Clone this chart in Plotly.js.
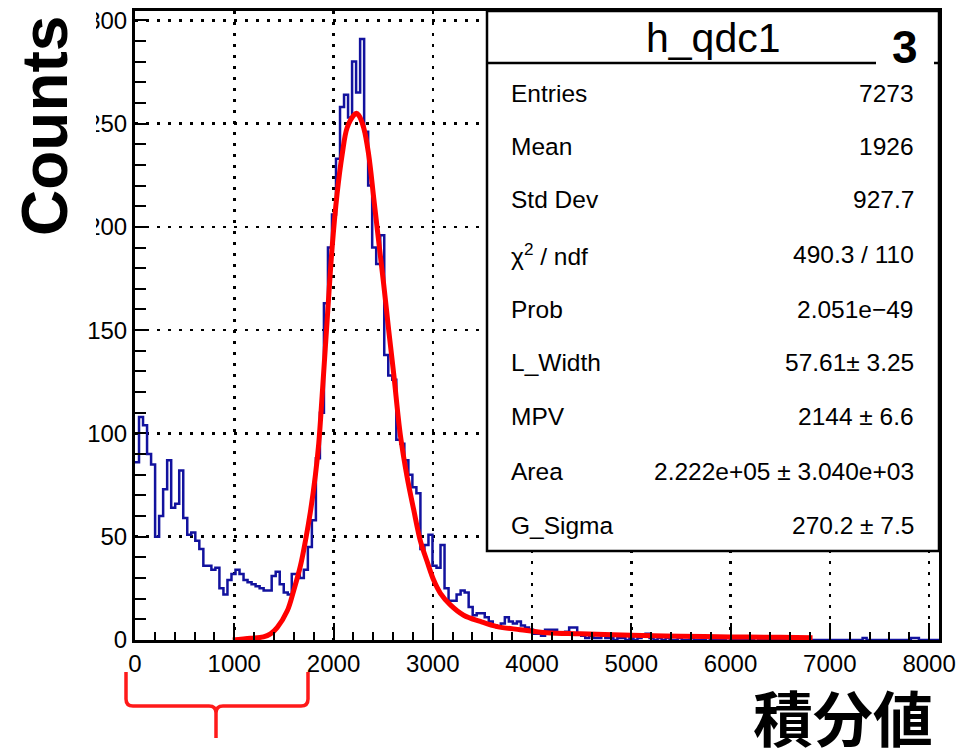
<!DOCTYPE html>
<html>
<head>
<meta charset="utf-8">
<script src="https://cdn.plot.ly/plotly-3.0.1.min.js"></script>
<style>html,body{margin:0;padding:0;background:#fff}#chart{width:958px;height:750px}</style>
</head>
<body>
<div id="chart"></div>
<script>
// ---- data ----
const histName = "h_qdc1";
const binWidth = 40.5;
const xMin = 0;
const xMax = 8100;
const counts = [
  86,108,104,90,85,50,60,73,87,64,
  66,82,59,51,52,48,44,36,36,34,
  35,25,22,29,32,34,32,29,28,27,
  26,25,24,24,31,33,27,23,22,32,
  32,30,34,45,58,88,110,163,190,206,
  233,258,264,253,280,265,291,246,220,190,
  182,196,138,128,126,97,95,87,80,74,
  71,44,46,51,36,35,46,25,19,19,
  22,24,23,16,12,13,13,11,9,7,
  6,8,11,9,8,9,7,6,5,3,
  3,2,5,5,5,3,3,4,6,6,
  3,2,1,2,1,1,2,1,1,0,
  1,1,0,1,0,1,2,3,1,0,
  1,0,1,0,0,1,0,0,1,0,
  0,0,1,0,0,0,0,1,0,0,
  0,0,0,0,1,0,0,0,0,0,
  0,0,0,0,0,0,0,0,0,0,
  0,0,0,0,0,0,0,0,0,0,
  0,1,0,0,0,0,0,0,0,0,
  0,0,0,1,1,0,0,0,0,0
];
const fitX = [985,1163,1294,1365,1432,1533,1599,1667,1717,1767,1818,1851,1885,1936,1986,2036,2087,2137,2203,2230,2254,2304,2354,2405,2455,2506,2556,2606,2674,2741,2808,2875,2943,3009,3077,3177,3311,3479,3648,3882,4151,4486,5000,5500,6000,6500,6826];
const fitY = [0,0.8,1.5,3,6,14,24,36,48,62,80,95,118,155,190,216,235,248,254,255,254,248,235,214,193,172,150,129,99,79,63,48,38,29,22.6,17,12,9,6.5,5,3.5,3,2.3,1.8,1.5,1.3,1.1];
const xTickVals = [0,1000,2000,3000,4000,5000,6000,7000,8000];
const yTickVals = [0,50,100,150,200,250,300];
const statLabels = ["Entries","Mean","Std Dev","\u03c7<sup>2</sup> / ndf","Prob","L_Width","MPV","Area","G_Sigma"];
const statValues = ["7273","1926","927.7","490.3 / 110","2.051e\u221249","57.61\u00b1 3.25","2144 \u00b1 6.6","2.222e+05 \u00b1 3.040e+03","270.2 \u00b1 7.5"];
const yTitle = "Counts";
const xTitle = "積分値";
const cornerMark = "3";

// ---- build histogram steps ----
const hx = [], hy = [];
for (let i = 0; i < counts.length; i++) { hx.push(xMin + i * binWidth); hy.push(counts[i]); }
hx.push(xMax); hy.push(counts[counts.length - 1]);

// ---- geometry helpers (pixel -> paper) ----
const W = 958, H = 750, mL = 135, mR = 19, mT = 11, mB = 110;
const pw = W - mL - mR, ph = H - mT - mB;
const px = x => (x - mL) / pw;
const py = y => (H - mB - y) / ph;

const font = "Liberation Sans, Arial, sans-serif";
const traces = [
  {x: hx, y: hy, type: 'scatter', mode: 'lines', line: {shape: 'hv', color: '#12129e', width: 2.5}, hoverinfo: 'skip'},
  {x: fitX, y: fitY, type: 'scatter', mode: 'lines', line: {shape: 'spline', smoothing: 1, color: '#ff0000', width: 5}, hoverinfo: 'skip'}
];

const rowY = [93,146,200,254,309,362,416,471,525];
const annotations = [];
statLabels.forEach((t, i) => annotations.push({xref:'paper', yref:'paper', x: px(509), y: py(rowY[i]), xanchor:'left', yanchor:'middle', text: t, showarrow:false, font:{family:font, size:24.5, color:'#000'}}));
statValues.forEach((t, i) => annotations.push({xref:'paper', yref:'paper', x: px(916), y: py(rowY[i]), xanchor:'right', yanchor:'middle', text: t, showarrow:false, font:{family:font, size:24.5, color:'#000'}}));
annotations.push({xref:'paper', yref:'paper', x: px(713), y: py(38), xanchor:'center', yanchor:'middle', text: histName, showarrow:false, font:{family:font, size:41, color:'#000'}});
annotations.push({xref:'paper', yref:'paper', x: px(905), y: py(47), xanchor:'center', yanchor:'middle', text: cornerMark, showarrow:false, font:{family:font, size:46, color:'#000', weight:'bold'}});
annotations.push({xref:'paper', yref:'paper', x: px(45), y: py(126), xanchor:'center', yanchor:'middle', text: yTitle, textangle:-90, showarrow:false, font:{family:font, size:64, color:'#000', weight:'bold'}});
annotations.push({xref:'paper', yref:'paper', x: px(843), y: py(715), xanchor:'center', yanchor:'middle', text: xTitle, showarrow:false, font:{family:"Noto Sans CJK JP, sans-serif", size:60, color:'#000', weight:'bold'}});

function P(x, y) { return px(x) + ',' + py(y); }
const bracket = 'M' + P(126,672) + ' L' + P(126,699) + ' Q' + P(126,706) + ' ' + P(133,706) +
  ' L' + P(209,706) + ' Q' + P(216,706) + ' ' + P(216,713) + ' L' + P(216,738) +
  ' M' + P(216,713) + ' Q' + P(216,706) + ' ' + P(223,706) + ' L' + P(301,706) +
  ' Q' + P(308,706) + ' ' + P(308,699) + ' L' + P(308,672);

const shapes = [
  {type:'rect', xref:'paper', yref:'paper', x0: px(487), x1: 1, y0: py(551), y1: 1, fillcolor:'#fff', line:{color:'#000', width:2.5}, layer:'above'},
  {type:'line', xref:'paper', yref:'paper', x0: px(487), x1: px(876), y0: py(63), y1: py(63), line:{color:'#000', width:2.5}, layer:'above'},
  {type:'line', xref:'paper', yref:'paper', x0: px(934), x1: 1, y0: py(63), y1: py(63), line:{color:'#000', width:2.5}, layer:'above'},
  {type:'rect', xref:'paper', yref:'paper', x0: px(0), x1: px(96), y0: py(245), y1: py(0), fillcolor:'#fff', line:{width:0}, layer:'above'},
  {type:'path', xref:'paper', yref:'paper', path: bracket, line:{color:'#ff1a1a', width:3.5}, layer:'above'}
];

const layout = {
  width: W, height: H,
  margin: {l: mL, r: mR, t: mT, b: mB, pad: 0},
  paper_bgcolor: '#fff', plot_bgcolor: '#fff',
  showlegend: false,
  font: {family: font, color: '#000'},
  xaxis: {
    range: [xMin, xMax], tickvals: xTickVals, ticktext: xTickVals.map(String),
    ticks: 'inside', ticklen: 17, tickwidth: 2, tickcolor: '#000',
    minor: {dtick: 200, tick0: 0, ticks: 'inside', ticklen: 8, tickwidth: 2, tickcolor: '#000', showgrid: false},
    showline: true, linecolor: '#000', linewidth: 3, mirror: true,
    showgrid: true, gridcolor: '#000', gridwidth: 2.5, griddash: '3px,8px',
    zeroline: false, tickfont: {family: font, size: 24, color: '#000'}, fixedrange: true
  },
  yaxis: {
    range: [0, 304.5], tickvals: yTickVals, ticktext: yTickVals.map(String),
    ticks: 'inside', ticklen: 11, tickwidth: 2, tickcolor: '#000',
    minor: {dtick: 10, tick0: 0, ticks: 'inside', ticklen: 11, tickwidth: 2, tickcolor: '#000', showgrid: false},
    showline: true, linecolor: '#000', linewidth: 3, mirror: true,
    showgrid: true, gridcolor: '#000', gridwidth: 2.5, griddash: '3px,8px',
    zeroline: false, tickfont: {family: font, size: 24, color: '#000'}, fixedrange: true
  },
  shapes: shapes,
  annotations: annotations
};

Plotly.newPlot('chart', traces, layout, {staticPlot: true, displayModeBar: false});
</script>
</body>
</html>
